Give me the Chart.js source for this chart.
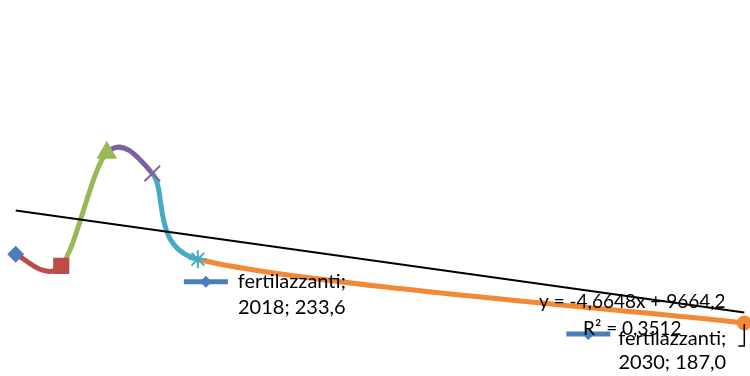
<!DOCTYPE html>
<html lang="it">
<head>
  <meta charset="UTF-8">
  <title>fertilazzanti</title>
  <style>
    body { margin: 0; background: #fff; }
  </style>
</head>
<body>
<canvas id="trend" width="750" height="376"></canvas>

<script src="https://cdn.jsdelivr.net/npm/chart.js"></script>
<script>
// series
const seriesName = "fertilazzanti";
const years = [2014, 2015, 2016, 2017, 2018, 2030];
const values = [237.3, 228.8, 311.5, 296.4, 233.6, 187.0];

// linear trendline as printed on the chart
const trendSlope = -4.6648;
const trendIntercept = 9664.2;
const trendR2 = 0.3512;

// points that carry a data label
const labelledPoints = [4, 5];

// one colour per point, excel style "vary colours by point"
const pointColors = ["#4A7EBB", "#BE4B48", "#98B954", "#7D60A0", "#46AAC5", "#F08A34"];
const pointStyles = ["rectRot", "rect", "triangle", "crossRot", "star", "circle"];
const pointSizes = [7, 10, 10, 11, 9, 6.5];

const fmt = (v, d) => v.toFixed(d).replace(".", ",");
const trendAt = (x) => trendSlope * x + trendIntercept;

// excel-like smoothing: tangent (next - prev) / 6, arm capped at half the segment
const smoothLine = {
  id: "smoothLine",
  beforeDatasetsDraw(chart) {
    const meta = chart.getDatasetMeta(0);
    const pts = meta.data;
    pts.forEach((p, i) => {
      const prev = pts[i - 1] || p;
      const next = pts[i + 1] || p;
      const tx = next.x - prev.x, ty = next.y - prev.y;
      const len = Math.hypot(tx, ty) || 1;
      const fIn = Math.min(1 / 6, Math.hypot(p.x - prev.x, p.y - prev.y) / (2 * len));
      const fOut = Math.min(1 / 6, Math.hypot(next.x - p.x, next.y - p.y) / (2 * len));
      p.cp1x = p.x - tx * fIn; p.cp1y = p.y - ty * fIn;
      p.cp2x = p.x + tx * fOut; p.cp2y = p.y + ty * fOut;
    });
    meta.dataset._pointsUpdated = true;
  }
};

// label boxes: offsets from the point they belong to
const labelBoxes = {
  4: { keyX: -14, keyY: 22.4, textX: 94, line1: 29, line2: 55 },
  5: { keyX: -178, keyY: 11, textX: -72, line1: 22, line2: 46.5, leader: true }
};

const labels = {
  id: "labels",
  afterDatasetsDraw(chart) {
    const ctx = chart.ctx;
    const pts = chart.getDatasetMeta(0).data;
    ctx.save();
    ctx.font = "20px Lato";
    ctx.textAlign = "center";
    ctx.textBaseline = "alphabetic";

    labelledPoints.forEach((i) => {
      const p = pts[i];
      const b = labelBoxes[i];
      // legend key: blue line with a diamond
      const kx = p.x + b.keyX, ky = p.y + b.keyY;
      ctx.strokeStyle = pointColors[0];
      ctx.lineWidth = 5;
      ctx.beginPath();
      ctx.moveTo(kx, ky);
      ctx.lineTo(kx + 44, ky);
      ctx.stroke();
      ctx.fillStyle = pointColors[0];
      ctx.beginPath();
      ctx.moveTo(kx + 22 - 6, ky);
      ctx.lineTo(kx + 22, ky - 6);
      ctx.lineTo(kx + 22 + 6, ky);
      ctx.lineTo(kx + 22, ky + 6);
      ctx.closePath();
      ctx.fill();

      ctx.fillStyle = "#000";
      ctx.fillText(seriesName + ";", p.x + b.textX, p.y + b.line1);
      ctx.fillText(years[i] + "; " + fmt(values[i], 1), p.x + b.textX, p.y + b.line2);

      if (b.leader) {
        ctx.strokeStyle = "#000";
        ctx.lineWidth = 1.5;
        ctx.beginPath();
        ctx.moveTo(p.x, p.y + 1);
        ctx.lineTo(p.x, p.y + 23);
        ctx.lineTo(p.x - 6, p.y + 23);
        ctx.stroke();
      }
    });
    ctx.restore();
  },
  afterDraw(chart) {
    // trendline equation, placed left of the trendline end
    const ctx = chart.ctx;
    const end = chart.getDatasetMeta(1).data[1];
    ctx.save();
    ctx.font = "19px Lato";
    ctx.textAlign = "center";
    ctx.fillStyle = "#000";
    ctx.fillText("y = " + fmt(trendSlope, 4) + "x + " + fmt(trendIntercept, 1), end.x - 112, end.y - 5);
    ctx.fillText("R² = " + fmt(trendR2, 4), end.x - 112, end.y + 22.5);
    ctx.restore();
  }
};

new Chart(document.getElementById("trend"), {
  type: "scatter",
  data: {
    datasets: [
      {
        label: seriesName,
        data: years.map((x, i) => ({ x: x, y: values[i] })),
        showLine: true,
        tension: 0.4,
        borderWidth: 5,
        borderCapStyle: "round",
        borderJoinStyle: "round",
        segment: {
          borderColor: (c) => pointColors[c.p1DataIndex]
        },
        pointStyle: pointStyles,
        pointRadius: pointSizes,
        pointBackgroundColor: pointColors,
        pointBorderColor: pointColors,
        pointBorderWidth: 2,
        clip: false,
        order: 1
      },
      {
        label: "trend",
        data: [years[0], years[years.length - 1]].map((x) => ({ x: x, y: trendAt(x) })),
        showLine: true,
        borderColor: "#000",
        borderWidth: 2,
        pointRadius: 0,
        clip: false,
        order: 0
      }
    ]
  },
  options: {
    responsive: false,
    animation: false,
    layout: { padding: 0, autoPadding: false },
    plugins: {
      legend: { display: false },
      tooltip: { enabled: false }
    },
    scales: {
      x: { type: "linear", display: false, min: 2013.655, max: 2030.125 },
      y: { display: false, min: 148.2, max: 423.3 }
    }
  },
  plugins: [smoothLine, labels]
});
</script>
</body>
</html>
